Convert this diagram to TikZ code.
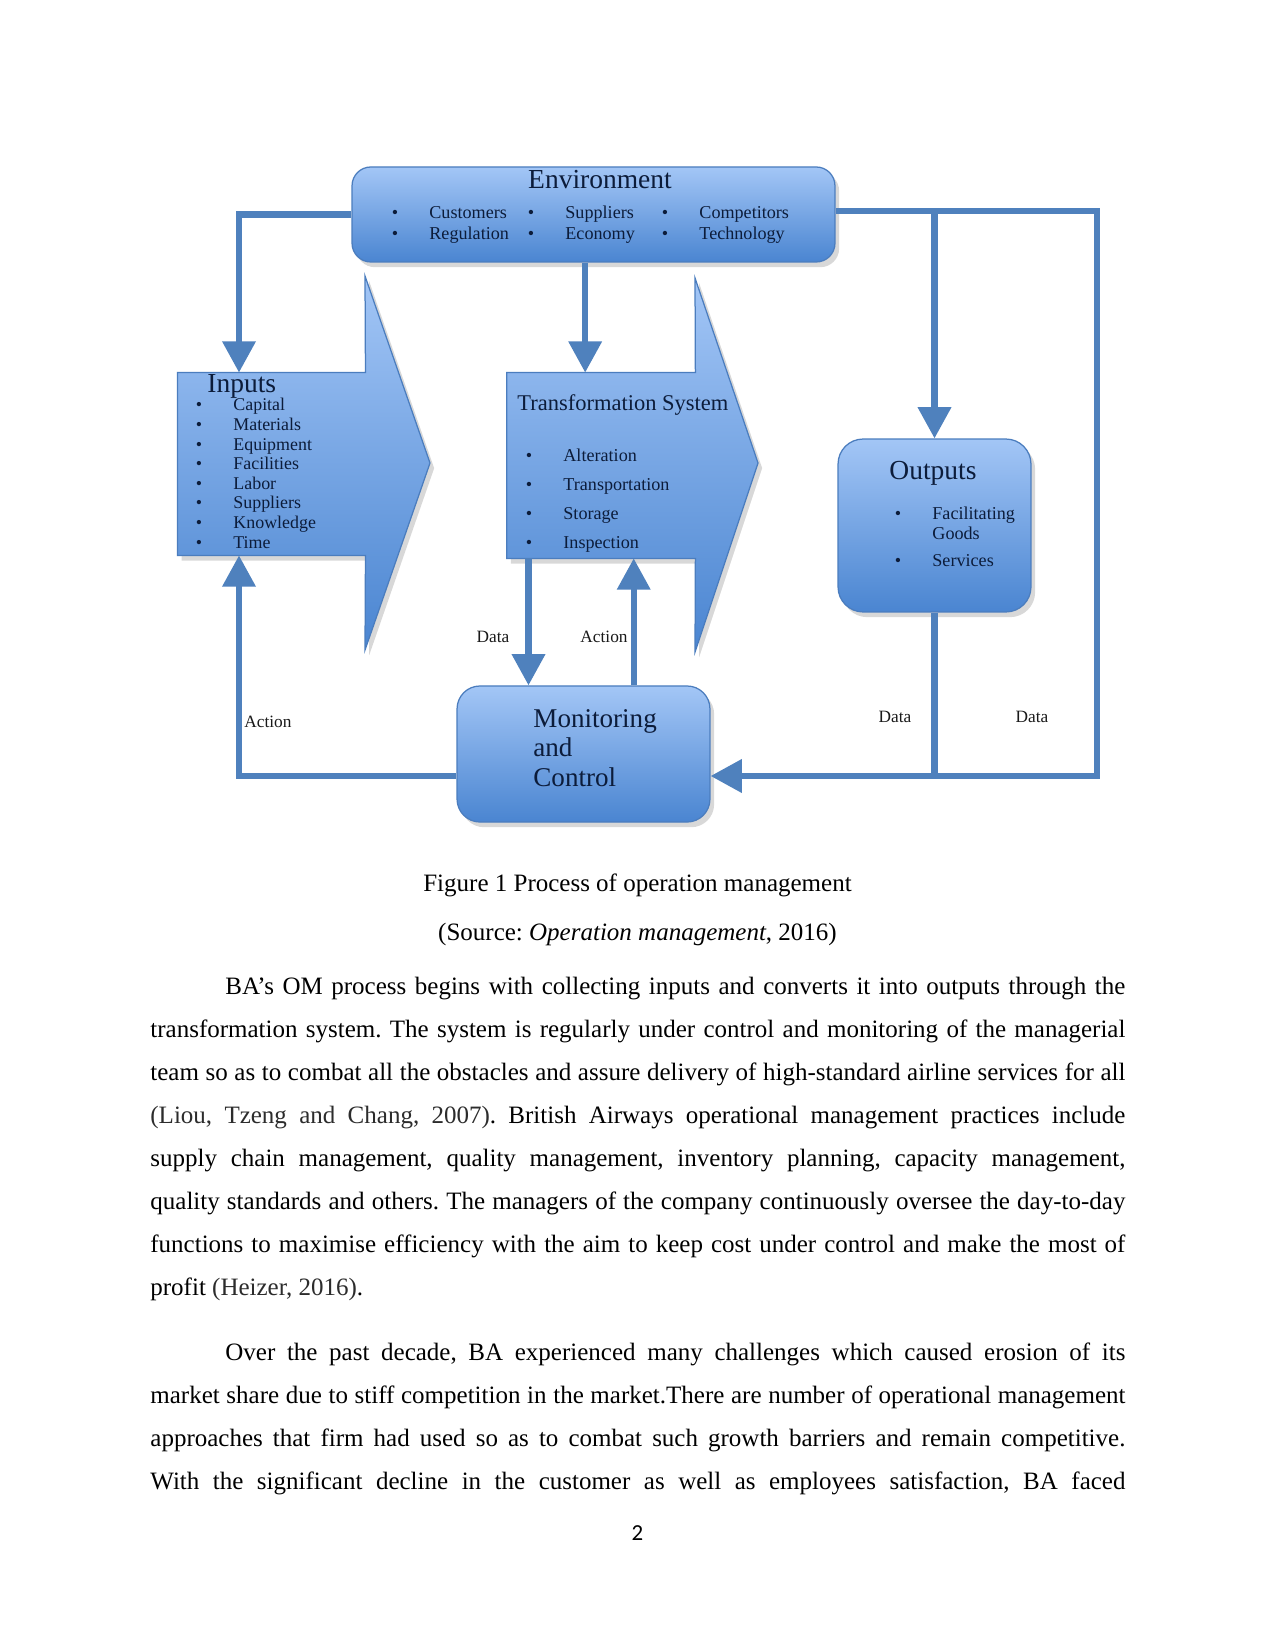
\documentclass[tikz,border=0pt]{standalone}
\usepackage{fontspec}
\setmainfont{Liberation Serif}
\newfontfamily\pagenofont{Carlito}
\usepackage{tikz}
\usetikzlibrary{arrows.meta,positioning,shadows}
\frenchspacing

\definecolor{flowblue}{HTML}{4F81BD}
\definecolor{boxtop}{HTML}{A3C6F6}
\definecolor{boxbottom}{HTML}{4A85D1}
\definecolor{boxedge}{HTML}{4B7DBE}
\definecolor{navy}{HTML}{0C1C3A}
\definecolor{citegray}{HTML}{2C2C2C}

\newcommand{\dotitem}[1]{\makebox[18pt][l]{\textbullet}#1}
\newcommand{\bulletlist}[1]{\begin{tabular}[t]{@{}l@{}}#1\end{tabular}}
\newcommand{\justline}[2][468pt]{\makebox[#1][s]{#2}}

\begin{document}
\begin{tikzpicture}[
  x=0.48pt, y=-0.48pt,
  box/.style={draw=boxedge, line width=0.6pt, top color=boxtop, bottom color=boxbottom,
              drop shadow={shadow xshift=2pt, shadow yshift=-2.5pt, opacity=0.3}},
  blockbody/.style={inner sep=0pt, draw=none},
  flow/.style={draw=flowblue, line width=2.9pt},
  arrow/.style={flow, -{Triangle[length=15pt, width=15.5pt]}},
  title/.style={anchor=base, inner sep=0pt, text=navy, font=\fontsize{13.2}{15}\selectfont},
  list/.style={anchor=base west, inner sep=0pt, text=navy, font=\fontsize{8.6}{9.4}\selectfont},
  tag/.style={anchor=base, inner sep=0pt, text=black!90, font=\fontsize{8.3}{10}\selectfont},
  bodyline/.style={anchor=base west, inner sep=0pt, font=\fontsize{12}{14}\selectfont},
]
  \fill[white] (0,0) rectangle (1275,1650);
  \useasboundingbox (0,0) rectangle (1275,1650);

  % boxes
  \node[box, rounded corners=9pt, minimum width=231.8pt, minimum height=45.6pt] (env) at (593.5,214.5) {};
  \node[box, rounded corners=12pt, minimum width=92.6pt, minimum height=83pt] (outputs) at (934.5,525.5) {};
  \node[box, rounded corners=11pt, minimum width=121.4pt, minimum height=65.3pt] (mon) at (583.5,754) {};

  % block arrows
  \node[blockbody, minimum width=89.8pt, minimum height=87.4pt] (inputs) at (271.5,464) {};
  \draw[box] (inputs.north west) -- (inputs.north east) -- (365,276) -- (430,463) -- (365,650)
    -- (inputs.south east) -- (inputs.south west) -- cycle;
  \node[blockbody, minimum width=90.2pt, minimum height=88.8pt] (trans) at (601,465.5) {};
  \draw[box] (trans.north west) -- (trans.north east) -- (695,278) -- (758,463) -- (695,652)
    -- (trans.south east) -- (trans.south west) -- cycle;

  % connectors
  \coordinate (corner) at (1097,776);
  \coordinate (envright) at ([yshift=1.5pt]env.east);
  \coordinate (datatop) at ([xshift=10.5pt]trans.south west);
  \coordinate (actiontop) at ([xshift=61pt]trans.south west);
  \coordinate (envdown) at ([xshift=-4pt]env.south);
  \draw[arrow] (env.west) -| ([xshift=29.5pt]inputs.north west);
  \draw[arrow] (envdown) -- (envdown |- trans.north);
  \draw[arrow] (envright) -| (corner) -- (corner -| mon.east);
  \draw[arrow] (outputs.north |- envright) -- (outputs.north);
  \draw[flow] (outputs.south) -- (outputs.south |- corner);
  \draw[arrow] (mon.west |- corner) -| ([xshift=29.5pt]inputs.south west);
  \draw[arrow] (datatop) -- (datatop |- mon.north);
  \draw[arrow] (actiontop |- mon.north) -- (actiontop);

  % texts in the diagram
  \node[title] (envtitle) at (600,189) {Environment};
  \node[list, font=\fontsize{8.7}{10}\selectfont] (envcolA) at (391.5,219) {\bulletlist{\dotitem{Customers}\\\dotitem{Regulation}}};
  \node[list, font=\fontsize{8.7}{10}\selectfont] (envcolB) at (527.5,219) {\bulletlist{\dotitem{Suppliers}\\\dotitem{Economy}}};
  \node[list, font=\fontsize{8.7}{10}\selectfont] (envcolC) at (661.5,219) {\bulletlist{\dotitem{Competitors}\\\dotitem{Technology}}};

  \node[title, anchor=base west] (intitle) at (207,393) {Inputs};
  \node[list] (inlist) at (195.5,411) {\bulletlist{\dotitem{Capital}\\\dotitem{Materials}\\\dotitem{Equipment}\\
    \dotitem{Facilities}\\\dotitem{Labor}\\\dotitem{Suppliers}\\\dotitem{Knowledge}\\\dotitem{Time}}};

  \node[title, anchor=base west, font=\fontsize{10.8}{13}\selectfont] (transtitle) at (517,410) {Transformation System};
  \node[list, font=\fontsize{8.7}{13.9}\selectfont] (translist) at (525.5,462) {\bulletlist{\dotitem{Alteration}\\
    \dotitem{Transportation}\\\dotitem{Storage}\\\dotitem{Inspection}}};

  \node[title] (outtitle) at (933,479) {Outputs};
  \node[list, font=\fontsize{8.7}{9.6}\selectfont] (outlist) at (894.5,519) {\bulletlist{\dotitem{Facilitating}\\
    \hspace{18pt}Goods\\[3.4pt]\dotitem{Services}}};

  \node[title, anchor=base west, font=\fontsize{13}{14.2}\selectfont] (montext) at (533,727) {\bulletlist{Monitoring\\and\\Control}};

  \node[tag] (datatag) at (493,642) {Data};
  \node[tag] (actiontag) at (604,642) {Action};
  \node[tag] (backtag) at (268,727) {Action};
  \node[tag] (outdatatag) at (895,722) {Data};
  \node[tag] (loopdatatag) at (1032,722) {Data};

  % page text
  \node[anchor=base, inner sep=0pt, font=\fontsize{12}{14}\selectfont] (caption) at (637.5,891) {Figure 1 Process of operation management};
  \node[anchor=base, inner sep=0pt, font=\fontsize{12}{14}\selectfont] (source) at (637.5,940) {(Source: \textit{Operation management}, 2016)};

  \node[bodyline] (p1a) at (225,994) {\justline[432pt]{BA’s OM process begins with collecting inputs and converts it into outputs through the}};
  \node[bodyline] (p1b) at (150,1037.1) {\justline{transformation system. The system is regularly under control and monitoring of the managerial}};
  \node[bodyline] (p1c) at (150,1080.2) {\justline{team so as to combat all the obstacles and assure delivery of high-standard airline services for all}};
  \node[bodyline] (p1d) at (150,1123.3) {\justline{\textcolor{citegray}{(Liou, Tzeng and Chang, 2007)}. British Airways operational management practices include}};
  \node[bodyline] (p1e) at (150,1166.4) {\justline{supply chain management, quality management, inventory planning, capacity management,}};
  \node[bodyline] (p1f) at (150,1209.5) {\justline{quality standards and others. The managers of the company continuously oversee the day-to-day}};
  \node[bodyline] (p1g) at (150,1252.6) {\justline{functions to maximise efficiency with the aim to keep cost under control and make the most of}};
  \node[bodyline] (p1h) at (150,1295.7) {profit \textcolor{citegray}{(Heizer, 2016)}.};

  \node[bodyline] (p2a) at (225,1360) {\justline[432pt]{Over the past decade, BA experienced many challenges which caused erosion of its}};
  \node[bodyline] (p2b) at (150,1403) {\justline{market share due to stiff competition in the market.There are number of operational management}};
  \node[bodyline] (p2c) at (150,1446) {\justline{approaches that firm had used so as to combat such growth barriers and remain competitive.}};
  \node[bodyline] (p2d) at (150,1489) {\justline{With the significant decline in the customer as well as employees satisfaction, BA faced}};

  \node[anchor=base, inner sep=0pt, font=\pagenofont\fontsize{11}{13}\selectfont] (pageno) at (637.5,1540) {2};
\end{tikzpicture}
\end{document}
